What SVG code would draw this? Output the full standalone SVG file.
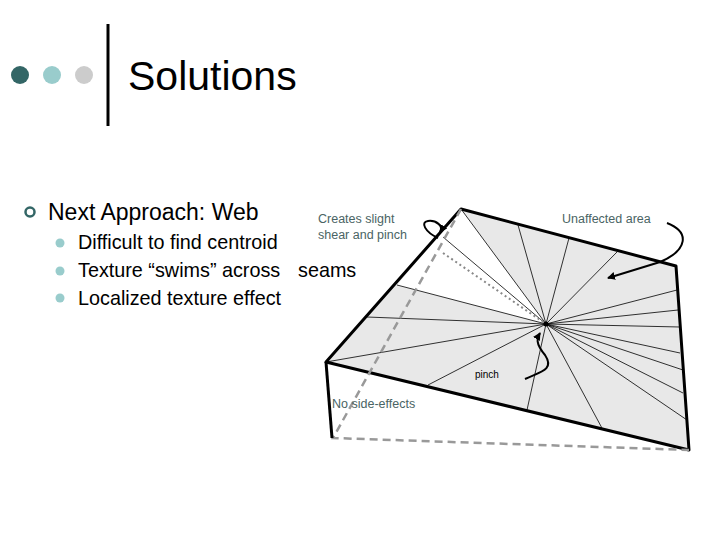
<svg xmlns="http://www.w3.org/2000/svg" width="720" height="540" viewBox="0 0 720 540">
<style>
text{font-family:"Liberation Sans",Arial,sans-serif}
.b{font-size:19.8px;fill:#000}
.n{font-size:12.5px;fill:#4a6464}
.r{stroke:#000;stroke-width:0.8}
.e{stroke:#000;stroke-width:3;fill:none}
.d{stroke:#999;stroke-width:2.5;stroke-dasharray:8 5;fill:none}
.c{stroke:#000;stroke-width:2;fill:none}
</style>
<defs><marker id="a" markerWidth="8" markerHeight="8" refX="7" refY="4" orient="auto" markerUnits="userSpaceOnUse"><path d="M0,0L8,4L0,8z" fill="#000"/></marker></defs>
<rect width="720" height="540" fill="#fff"/>
<g id="header">
<circle cx="20" cy="75" r="9" fill="#336666"/><circle cx="52" cy="75" r="9" fill="#99cccc"/><circle cx="84" cy="75" r="9" fill="#cccccc"/>
<line x1="108" y1="24" x2="108" y2="126" stroke="#000" stroke-width="3"/>
<text x="128" y="90" font-size="41">Solutions</text>
</g>
<g id="bullets">
<circle cx="30" cy="212" r="4.5" fill="none" stroke="#336666" stroke-width="2.5"/>
<text x="48" y="220" font-size="23">Next Approach: Web</text>
<circle cx="60" cy="243" r="4.5" fill="#99cccc"/><text class="b" x="78" y="249">Difficult to find centroid</text>
<circle cx="60" cy="271" r="4.5" fill="#99cccc"/><text class="b" x="78" y="277">Texture “swims” across</text>
<circle cx="60" cy="298" r="4.5" fill="#99cccc"/><text class="b" x="78" y="305">Localized texture effect</text>
<text class="b" x="298" y="277">seams</text>
</g>
<g id="mesh">
<polygon points="461,209 676,266 689,450 326,362" fill="#e8e8e8"/>
<polygon points="461,209 397,285 546,324" fill="#fff"/>
<g class="r">
<line x1="546" y1="324" x2="461" y2="209"/><line x1="546" y1="324" x2="518" y2="225"/><line x1="546" y1="324" x2="569" y2="238"/><line x1="546" y1="324" x2="617" y2="252"/>
<line x1="546" y1="324" x2="677" y2="290"/><line x1="546" y1="324" x2="678" y2="310"/><line x1="546" y1="324" x2="680" y2="327"/><line x1="546" y1="324" x2="680" y2="353"/><line x1="546" y1="324" x2="683" y2="370"/><line x1="546" y1="324" x2="683" y2="393"/><line x1="546" y1="324" x2="687" y2="420"/>
<line x1="546" y1="324" x2="603" y2="430"/><line x1="546" y1="324" x2="527" y2="410"/><line x1="546" y1="324" x2="428" y2="385"/>
<line x1="546" y1="324" x2="326" y2="362"/><line x1="546" y1="324" x2="367" y2="317"/><line x1="546" y1="324" x2="397" y2="285"/><line x1="546" y1="324" x2="443" y2="237"/>
</g>
<line x1="443" y1="253" x2="546" y2="324" stroke="#888" stroke-width="2" stroke-dasharray="2 3"/>
<circle cx="546" cy="324" r="2.5"/>
<polygon points="461,209 676,266 689,450 326,362" class="e" stroke-linejoin="round"/>
<polyline points="461,209 333,438 689,450" class="d"/>
<line x1="326" y1="362" x2="332" y2="438" stroke="#000" stroke-width="3"/>
</g>
<g id="connectors">
<path class="c" d="M438,238 C425,232 420,222 428,221 C436,220 444,226 440,232" marker-end="url(#a)"/>
<path class="c" d="M667,223 C690,232 688,250 660,262 L608,278" marker-end="url(#a)"/>
<path class="c" d="M525,379 C540,372 555,370 545,355 C535,343 537,338 540,333" marker-end="url(#a)"/>
</g>
<g id="labels">
<text class="n" x="318" y="223">Creates slight</text>
<text class="n" x="318" y="239">shear and pinch</text>
<text class="n" x="562" y="223">Unaffected area</text>
<text x="475" y="378" font-size="10">pinch</text>
<text class="n" x="332" y="408">No side-effects</text>
</g>
</svg>
